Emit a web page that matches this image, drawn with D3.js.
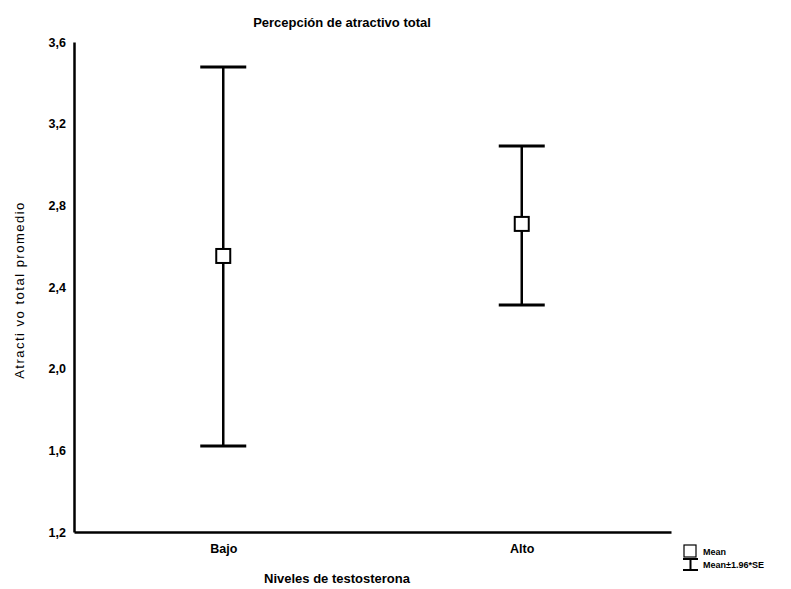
<!DOCTYPE html>
<html>
<head>
<meta charset="utf-8">
<script src="https://cdn.jsdelivr.net/npm/d3@7"></script>
<style>
  body { margin: 0; background: #fff; }
  text { font-family: "Liberation Sans", Arial, sans-serif; }
</style>
</head>
<body>
<main></main>
<script>
const groups = ['Bajo', 'Alto'];
const means = [2.552, 2.709];
const lower = [1.621, 2.312];
const upper = [3.478, 3.091];
const yTicks = [1.2, 1.6, 2.0, 2.4, 2.8, 3.2, 3.6];

const dimensions = {
  width: 791,
  height: 589,
  margin: { top: 42, right: 120, bottom: 57, left: 74 },
};
dimensions.boundedWidth =
  dimensions.width - (dimensions.margin.left + dimensions.margin.right);
dimensions.boundedHeight =
  dimensions.height - (dimensions.margin.top + dimensions.margin.bottom);

const data = groups.map((g, i) => ({
  group: g,
  mean: means[i],
  lo: lower[i],
  hi: upper[i],
}));

const xScale = d3
  .scalePoint()
  .domain(groups)
  .range([0, dimensions.boundedWidth])
  .padding(0.5);

const yScale = d3
  .scaleLinear()
  .domain([1.2, 3.6])
  .range([dimensions.boundedHeight, 0]);

const svg = d3
  .select('main')
  .append('svg')
  .attr('width', dimensions.width)
  .attr('height', dimensions.height);

const bounds = svg
  .append('g')
  .attr('transform', `translate(${dimensions.margin.left} ${dimensions.margin.top})`);

const fmt = d => d3.format('.1f')(d).replace('.', ',');

const yAxis = d3
  .axisLeft(yScale)
  .tickValues(yTicks)
  .tickSize(0)
  .tickPadding(8)
  .tickFormat(fmt);

const xAxis = d3.axisBottom(xScale).tickSize(0).tickPadding(12);

const yAxisGroup = bounds.append('g').call(yAxis);
const xAxisGroup = bounds
  .append('g')
  .attr('transform', `translate(0 ${dimensions.boundedHeight})`)
  .call(xAxis);

[yAxisGroup, xAxisGroup].forEach(g => {
  g.select('.domain').attr('stroke', '#000').attr('stroke-width', 2.5);
  g.selectAll('text')
    .attr('fill', '#000')
    .attr('font-size', 12.5)
    .attr('font-weight', 'bold');
});

// error bars
const capHalf = 23;
const bars = bounds
  .selectAll('g.bar')
  .data(data)
  .join('g')
  .attr('class', 'bar');

bars
  .append('line')
  .attr('x1', d => xScale(d.group))
  .attr('x2', d => xScale(d.group))
  .attr('y1', d => yScale(d.hi))
  .attr('y2', d => yScale(d.lo))
  .attr('stroke', '#000')
  .attr('stroke-width', 2.5);

bars
  .selectAll('line.cap')
  .data(d => [d.hi, d.lo].map(v => ({ x: xScale(d.group), y: yScale(v) })))
  .join('line')
  .attr('class', 'cap')
  .attr('x1', d => d.x - capHalf)
  .attr('x2', d => d.x + capHalf)
  .attr('y1', d => d.y)
  .attr('y2', d => d.y)
  .attr('stroke', '#000')
  .attr('stroke-width', 3);

bars
  .append('rect')
  .attr('x', d => xScale(d.group) - 7)
  .attr('y', d => yScale(d.mean) - 7)
  .attr('width', 14)
  .attr('height', 14)
  .attr('fill', '#fff')
  .attr('stroke', '#000')
  .attr('stroke-width', 2);

// titles
svg
  .append('text')
  .attr('x', 342)
  .attr('y', 27)
  .attr('text-anchor', 'middle')
  .attr('font-size', 13)
  .attr('font-weight', 'bold')
  .text('Percepción de atractivo total');

svg
  .append('text')
  .attr('x', 337)
  .attr('y', 583)
  .attr('text-anchor', 'middle')
  .attr('font-size', 13)
  .attr('font-weight', 'bold')
  .text('Niveles de testosterona');

svg
  .append('text')
  .attr('transform', 'translate(24 290) rotate(-90)')
  .attr('text-anchor', 'middle')
  .attr('font-size', 13)
  .attr('letter-spacing', 1.5)
  .text('Atracti vo total promedio');

// legend
const legend = svg.append('g').attr('transform', 'translate(684 545)');
legend
  .append('rect')
  .attr('x', 0)
  .attr('y', 0)
  .attr('width', 12)
  .attr('height', 12)
  .attr('fill', '#fff')
  .attr('stroke', '#000')
  .attr('stroke-width', 1.2);
legend
  .append('path')
  .attr('d', 'M -1 14 H 14 M 6.5 14 V 25 M -1 25 H 14')
  .attr('stroke', '#000')
  .attr('stroke-width', 2)
  .attr('fill', 'none');
legend
  .append('text')
  .attr('x', 19)
  .attr('y', 10)
  .attr('font-size', 9)
  .attr('font-family', '"Liberation Serif", serif')
  .attr('font-weight', 'bold')
  .text('Mean');
legend
  .append('text')
  .attr('x', 19)
  .attr('y', 23)
  .attr('font-size', 9)
  .attr('font-family', '"Liberation Serif", serif')
  .attr('font-weight', 'bold')
  .text('Mean±1.96*SE');
</script>
</body>
</html>
